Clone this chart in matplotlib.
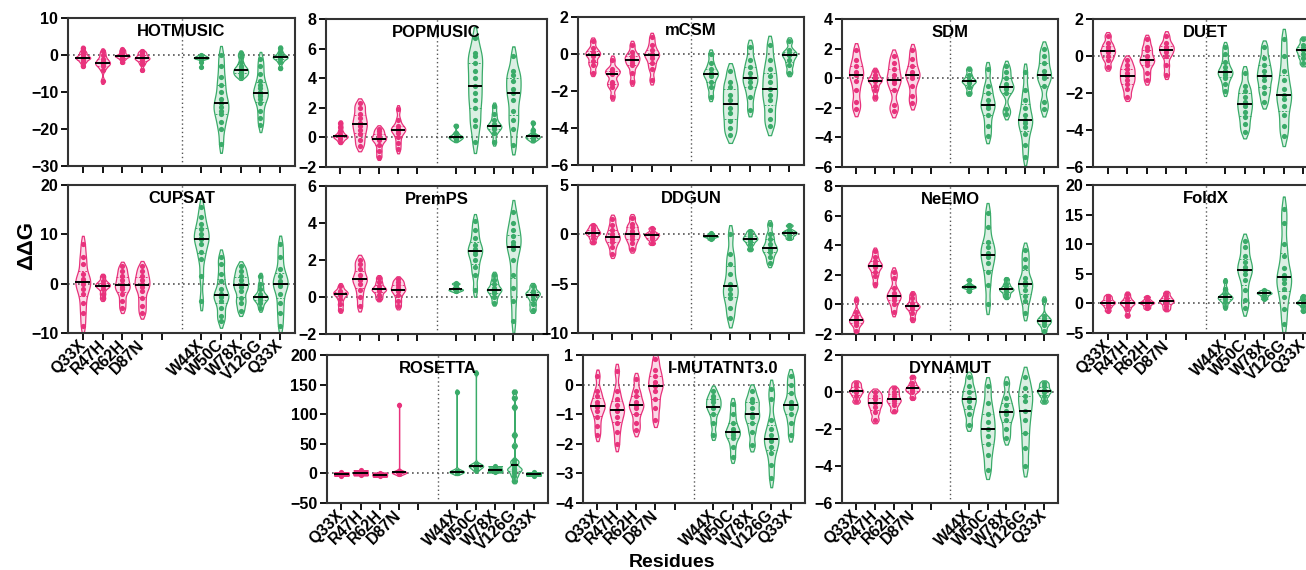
import numpy as np
import matplotlib
matplotlib.use('Agg')
import matplotlib.pyplot as plt
from matplotlib.colors import to_rgba

plt.rcParams['font.family'] = ['Liberation Sans', 'DejaVu Sans']
plt.rcParams['font.weight'] = 'bold'

# residues (4 pink + gap + 5 green)
residues = ['Q33X', 'R47H', 'R62H', 'D87N', 'W44X', 'W50C', 'W78X', 'V126G', 'Q33X']
tick_labels = ['Q33X', 'R47H', 'R62H', 'D87N', '', 'W44X', 'W50C', 'W78X', 'V126G', 'Q33X']

# ddG values per residue
hotmusic = [[-3, -2, -1.5, -1, -0.8, -0.7, -0.5, 0, 0.5, 1, 2],
            [-7, -4, -3, -2.5, -2.3, -2, -1.5, -1, 0, 1],
            [-2, -1.2, -0.8, -0.4, -0.3, -0.2, 0, 0.5, 1, 1.5],
            [-4, -2.5, -1.8, -1.2, -1, -0.8, -0.5, 0, 0.5, 1],
            [-3.2, -2, -1, -0.9, -0.8, -0.7, -0.5, -0.3, 0],
            [-24, -20, -18, -16, -15, -14, -13, -12, -10, -8, -6, -3, 0],
            [-6, -5.5, -5, -4.8, -4.2, -4, -3.5, -3, -2, -0.5, 0.5],
            [-19, -17, -15, -13, -12, -11, -10.5, -10, -9, -8, -7, -5, -3, -1],
            [-3.5, -2, -1.2, -0.8, -0.6, -0.4, 0, 0.8, 2]]
popmusic = [[-0.3, -0.1, 0, 0.05, 0.1, 0.2, 0.4, 0.7, 1.0],
            [-0.6, -0.2, 0.2, 0.5, 0.8, 1.0, 1.3, 1.6, 2.0, 2.3],
            [-1.3, -0.9, -0.5, -0.2, -0.1, 0, 0.2, 0.4, 0.6],
            [-0.8, -0.4, 0, 0.3, 0.5, 0.55, 0.6, 0.8, 1.2, 1.9],
            [-0.2, -0.1, 0, 0.05, 0.1, 0.3, 0.8],
            [-0.3, 0.8, 1.2, 2, 2.5, 3, 3.5, 4, 4.5, 5, 5.5, 5.7, 6.7],
            [-0.3, 0.3, 0.6, 0.7, 0.75, 0.9, 1.2, 1.6, 2.1],
            [-0.5, 0.6, 1.2, 1.8, 2.5, 3, 3.3, 3.8, 4.2, 4.5, 5.5],
            [-0.2, -0.1, 0, 0.05, 0.1, 0.2, 0.5, 1.0]]
mcsm = [[-1, -0.6, -0.4, -0.1, 0, 0.1, 0.3, 0.7],
        [-2.3, -1.8, -1.6, -1.5, -1.1, -1.0, -0.9, -0.8, -0.3],
        [-1.5, -1.0, -0.6, -0.5, -0.3, -0.2, -0.1, 0.1, 0.5],
        [-1.4, -0.8, -0.5, -0.2, -0.05, 0, 0.2, 0.5, 0.9],
        [-2.3, -1.8, -1.5, -1.2, -1.1, -1.0, -0.8, -0.5, 0],
        [-4.4, -4, -3.6, -3.2, -2.9, -2.5, -2.2, -1.8, -1.5, -0.9],
        [-3, -2.3, -1.8, -1.5, -1.3, -1.0, -0.7, -0.3, 0.4],
        [-3.9, -3.5, -3, -2.5, -2.2, -1.9, -1.5, -1.2, -0.8, -0.3, 0.5],
        [-1, -0.6, -0.3, -0.05, 0, 0.2, 0.7]]
sdm = [[-2.1, -1.6, -0.8, -0.2, 0.2, 0.4, 0.8, 1.2, 1.9],
       [-1.3, -0.8, -0.5, -0.2, -0.15, 0, 0.2, 0.5],
       [-2.2, -1.8, -0.8, -0.3, -0.1, 0.2, 0.6, 1.0, 1.5],
       [-1.7, -1.2, -0.5, 0, 0.2, 0.4, 0.8, 1.3, 1.9],
       [-1, -0.6, -0.3, -0.2, -0.1, 0.2, 0.6],
       [-3.9, -3.2, -2.5, -2, -1.8, -1.5, -1, -0.5, 0.6],
       [-2.4, -2.1, -1, -0.7, -0.6, -0.4, 0, 0.4, 0.8],
       [-5.3, -4.5, -3.8, -3.3, -3, -2.8, -2.5, -2, -1.5, -0.8, 0.4],
       [-2.1, -1.6, -0.5, 0, 0.2, 0.5, 1, 1.5, 2]]
duet = [[-0.6, -0.2, 0, 0.2, 0.3, 0.5, 0.7, 1.1],
        [-2.2, -1.8, -1.5, -1.3, -1.1, -0.9, -0.7, -0.5, -0.2],
        [-1.3, -0.9, -0.5, -0.3, -0.2, 0, 0.3, 0.5, 0.9],
        [-1, -0.5, 0, 0.2, 0.4, 0.5, 0.7, 1.1],
        [-1.9, -1.5, -1.2, -1, -0.9, -0.8, -0.6, -0.3, 0.1, 0.5],
        [-4.1, -3.7, -3.3, -3, -2.7, -2.5, -2.2, -1.9, -1.6, -0.9],
        [-2.5, -2, -1.7, -1.3, -1.1, -0.8, -0.5, -0.1, 0.5],
        [-4.3, -3.8, -3.2, -2.7, -2.3, -2.1, -1.8, -1.3, -0.8, 0, 0.9],
        [-0.4, -0.1, 0.1, 0.3, 0.4, 0.6, 0.9]]
cupsat = [[-8.5, -6, -4, -2, -1, 0, 0.5, 1, 2, 4, 5.5, 8],
          [-3, -2, -1, -0.5, -0.3, 0, 0.5, 1.5],
          [-5, -3.5, -2, -1, -0.7, 0, 0.8, 1.5, 2.5, 3.5],
          [-6, -4.5, -3, -1.5, -0.6, 0, 0.8, 1.5, 2.5, 3.5],
          [-3.5, 1.5, 5, 6.5, 8, 9, 9.3, 10, 11, 12, 13.5, 15.5],
          [-7.5, -6.5, -5, -3.5, -2.8, -2.5, -2, -1, 0.5, 2, 4, 5.5],
          [-5.5, -4, -3, -1.5, -0.7, 0, 0.8, 1.5, 2.5, 3.5],
          [-5, -4, -3.3, -3, -2.8, -2.5, -2, -1, 0, 1.5],
          [-8.5, -6, -4, -2, -0.5, 0, 0.5, 1.5, 3, 5.5, 8]]
premps = [[-0.7, -0.4, -0.1, 0.1, 0.2, 0.25, 0.35, 0.6],
          [-0.5, 0, 0.4, 0.7, 0.9, 1.0, 1.2, 1.5, 1.8, 2.0],
          [-0.1, 0.1, 0.3, 0.4, 0.45, 0.6, 0.8, 1.05],
          [-0.5, -0.2, 0.1, 0.3, 0.4, 0.5, 0.65, 0.8, 0.95],
          [0.3, 0.35, 0.4, 0.4, 0.45, 0.55, 0.7, 0.75],
          [0.4, 1.2, 1.6, 2.0, 2.3, 2.5, 2.6, 2.8, 3.2, 3.6, 4.1],
          [-0.3, 0, 0.2, 0.35, 0.4, 0.5, 0.7, 0.9, 1.2],
          [-1.3, -0.2, 0.5, 1.2, 2.0, 2.6, 2.8, 3.0, 3.3, 3.6, 4.0, 4.6],
          [-0.7, -0.4, -0.1, 0.1, 0.2, 0.3, 0.6]]
ddgun = [[-0.8, -0.4, -0.1, 0.1, 0.2, 0.4, 0.6, 0.9],
         [-2, -1.3, -0.8, -0.5, -0.3, 0, 0.4, 0.9, 1.6],
         [-1.5, -0.9, -0.5, -0.2, 0, 0.3, 0.7, 1.0, 1.7],
         [-0.9, -0.5, -0.3, -0.1, 0, 0.2, 0.6],
         [-0.5, -0.35, -0.25, -0.2, -0.15, -0.05, 0.1],
         [-8.5, -7.5, -6.5, -6, -5.5, -5, -4, -3, -2, 0],
         [-1.5, -1.0, -0.7, -0.5, -0.4, -0.2, 0, 0.3],
         [-2.9, -2.3, -1.8, -1.5, -1.4, -1.0, -0.5, 0, 1.0],
         [-0.4, -0.1, 0.1, 0.2, 0.4, 0.9]]
neemo = [[-1.8, -1.4, -1.2, -1.1, -1.0, -0.8, -0.5, 0.3],
         [1.4, 1.9, 2.2, 2.5, 2.6, 2.7, 2.9, 3.2, 3.6],
         [-0.5, 0, 0.3, 0.5, 0.6, 0.8, 1.1, 1.8, 2.2],
         [-1, -0.6, -0.3, -0.15, -0.1, 0.1, 0.4, 0.7],
         [0.9, 1.1, 1.15, 1.2, 1.25, 1.35, 1.65],
         [0, 1.3, 2.2, 2.8, 3.2, 3.5, 3.9, 4.2, 5.2, 6.2],
         [0.5, 0.7, 0.9, 1, 1.05, 1.2, 1.4, 1.7],
         [-0.6, 0.2, 0.6, 1.0, 1.3, 1.5, 1.8, 2.5, 3.1, 3.7],
         [-1.8, -1.4, -1.2, -1.1, -1.0, -0.8, 0.3]]
foldx = [[-1.2, -0.6, -0.2, 0.1, 0.2, 0.5, 0.9, 1.3],
         [-2, -1, -0.4, 0, 0.1, 0.4, 0.9, 1.6],
         [-0.8, -0.4, 0, 0.1, 0.3, 0.6, 1.1],
         [-1, -0.5, 0, 0.3, 0.5, 0.8, 1.2, 1.8],
         [-0.6, 0.2, 0.7, 0.9, 1, 1.2, 1.6, 2.5, 3.8],
         [-0.8, 0.5, 2.3, 4, 5, 5.7, 6.2, 7, 8, 9.5, 10.5],
         [0.8, 1.2, 1.5, 1.7, 1.8, 2.0, 2.2],
         [-3.5, -1, 1, 2.5, 3.5, 4.1, 4.8, 6, 8, 10, 13.5, 16],
         [-1.2, -0.5, 0, 0.1, 0.3, 0.7, 1.2]]
rosetta = [[-4, -2.5, -1.5, -1, -0.5, 0, 2],
           [-3, -1.5, -0.5, 0, 1, 2.5, 5],
           [-5, -3.5, -2.5, -2, -1.5, -0.5, 1],
           [-1, 0.5, 1.5, 2, 2.5, 3.5, 116],
           [1, 2, 2.5, 3, 3.5, 4.5, 138],
           [5, 9, 11, 12.5, 13, 14, 16, 170],
           [2, 3.5, 4.5, 5, 6, 8, 12],
           [-13, -5, 0, 4, 7, 8, 12, 18, 22, 47, 65, 112, 128, 138],
           [-4, -2.5, -1.5, -1, -0.5, 0, 2]]
imutant = [[-1.7, -1.4, -1.1, -0.9, -0.75, -0.7, -0.6, -0.4, -0.2, 0.3],
           [-2, -1.6, -1.3, -1.1, -0.9, -0.85, -0.7, -0.5, -0.2, 0.45],
           [-1.55, -1.3, -1.0, -0.8, -0.7, -0.6, -0.4, -0.2, 0.2],
           [-1.2, -0.8, -0.5, -0.2, -0.05, 0.1, 0.3, 0.5, 0.85],
           [-1.7, -1.3, -1.0, -0.8, -0.75, -0.6, -0.5, -0.4, -0.2],
           [-2.45, -2.1, -1.8, -1.7, -1.6, -1.5, -1.3, -1.0, -0.65],
           [-2.05, -1.6, -1.3, -1.1, -1.0, -0.8, -0.6, -0.5, -0.2],
           [-3.15, -2.7, -2.3, -2.1, -1.9, -1.85, -1.7, -1.5, -1.2, -0.5, -0.15],
           [-1.7, -1.3, -1.0, -0.8, -0.7, -0.6, -0.3, 0, 0.3]]
dynamut = [[-0.5, -0.2, 0, 0.1, 0.3, 0.5],
           [-1.5, -1.1, -0.8, -0.6, -0.4, -0.2, 0],
           [-1, -0.7, -0.5, -0.4, -0.2, 0, 0.2],
           [-0.3, 0, 0.1, 0.2, 0.3, 0.5, 0.8],
           [-1.8, -1.2, -0.8, -0.5, -0.3, 0, 0.3, 0.8],
           [-4.2, -3.4, -2.8, -2.4, -2.0, -1.6, -1.2, -0.6, 0.3],
           [-2.5, -2, -1.5, -1.2, -1.0, -0.7, -0.3, 0.5],
           [-4, -3, -2.2, -1.5, -1, -0.5, -0.2, 0.2, 0.8],
           [-0.5, -0.2, 0, 0.1, 0.3, 0.5]]

PINK = '#e8327c'
GREEN = '#3aab69'
positions = [0, 1, 2, 3, 6, 7, 8, 9, 10]
colors = [PINK] * 4 + [GREEN] * 5
W, H = 1306, 570

# name, data, ylim, ytick step, left px, top px, width px, x labels?, bw factor, title x
panels = [
    ('HOTMUSIC', hotmusic, (-30, 10), 10, 68, 18, 227, False, 0.3, 0.5),
    ('POPMUSIC', popmusic, (-2, 8), 2, 326, 19, 221, False, 0.3, 0.5),
    ('mCSM', mcsm, (-6, 2), 2, 578, 17, 226, False, 0.3, 0.5),
    ('SDM', sdm, (-6, 4), 2, 842, 19, 216, False, 0.3, 0.5),
    ('DUET', duet, (-6, 2), 2, 1093, 19, 225, False, 0.3, 0.5),
    ('CUPSAT', cupsat, (-10, 20), 10, 68, 185, 227, True, 0.3, 0.5),
    ('PremPS', premps, (-2, 6), 2, 326, 186, 221, False, 0.3, 0.5),
    ('DDGUN', ddgun, (-10, 5), 5, 578, 185, 226, False, 0.3, 0.5),
    ('NeEMO', neemo, (-2, 8), 2, 842, 186, 216, False, 0.3, 0.5),
    ('FoldX', foldx, (-5, 20), 5, 1093, 185, 225, True, 0.3, 0.5),
    ('ROSETTA', rosetta, (-50, 200), 50, 327, 355, 221, True, 0.06, 0.5),
    ('I-MUTATNT3.0', imutant, (-4, 1), 1, 583, 355, 222, True, 0.3, 0.63),
    ('DYNAMUT', dynamut, (-6, 2), 2, 842, 355, 216, True, 0.3, 0.5),
]
panel_h = 148


def kde_stats(vals, f):
    v = np.asarray(vals, float)
    bw = f * v.std(ddof=1)
    ys = np.linspace(v.min() - 1.2 * bw, v.max() + 1.2 * bw, 300)
    dens = np.exp(-0.5 * ((ys[:, None] - v[None, :]) / bw) ** 2).sum(axis=1)
    return dict(coords=ys, vals=dens, mean=v.mean(), median=np.median(v),
                min=v.min(), max=v.max())


fig = plt.figure(figsize=(W / 100, H / 100), dpi=100)

for name, data, ylim, step, left, top, width, xlab, bwf, tx in panels:
    ax = fig.add_axes([left / W, 1 - (top + panel_h) / H, width / W, panel_h / H])
    stats = [kde_stats(d, bwf) for d in data]
    parts = ax.violin(stats, positions=positions, widths=0.75, showextrema=False)
    for body, c in zip(parts['bodies'], colors):
        body.set_facecolor(to_rgba(c, 0.18))
        body.set_edgecolor(c)
        body.set_linewidth(0.9)
        body.set_alpha(None)
    for st, d, p, c in zip(stats, data, positions, colors):
        dmax = st['vals'].max()
        for q, ls, col, lw in [(25, (0, (2, 1.5)), c, 0.7), (75, (0, (2, 1.5)), c, 0.7),
                               (50, '-', 'black', 1.4)]:
            yq = np.percentile(d, q)
            half = np.interp(yq, st['coords'], st['vals']) / dmax * 0.375
            ax.hlines(yq, p - half, p + half, colors=col, linestyles=ls, lw=lw, zorder=4)
        ax.scatter([p] * len(d), d, s=14, color=c, linewidths=0, zorder=3)

    ax.axhline(0, color='#555555', ls=(0, (1, 2)), lw=1.2, zorder=0)
    ax.axvline(5, color='#555555', ls=(0, (1, 2)), lw=1.0, zorder=0)
    ax.set_xlim(-0.75, 10.75)
    ax.set_ylim(*ylim)
    ax.set_yticks(np.arange(ylim[0], ylim[1] + step / 2, step))
    ax.set_xticks([0, 1, 2, 3, 4, 6, 7, 8, 9, 10])
    if xlab:
        ax.set_xticklabels(tick_labels, rotation=45, ha='right', va='center',
                           rotation_mode='anchor', fontsize=11.5, fontweight='bold')
    else:
        ax.set_xticklabels([])
    ax.tick_params(direction='out', length=5, width=1.3, labelsize=11.5, pad=2)
    for lbl in ax.get_yticklabels():
        lbl.set_fontweight('bold')
    for sp in ax.spines.values():
        sp.set_linewidth(1.5)
        sp.set_color('#333333')
    ax.text(tx, 0.91, name, transform=ax.transAxes, ha='center', va='center',
            fontsize=12, fontweight='bold')

fig.text(27 / W, 1 - 245 / H, 'ΔΔG', rotation=90, ha='center', va='center',
         fontsize=16, fontweight='bold')
fig.text(672 / W, 3 / H, 'Residues', ha='center', va='baseline',
         fontsize=14, fontweight='bold')

fig.savefig('out.png', dpi=100)
